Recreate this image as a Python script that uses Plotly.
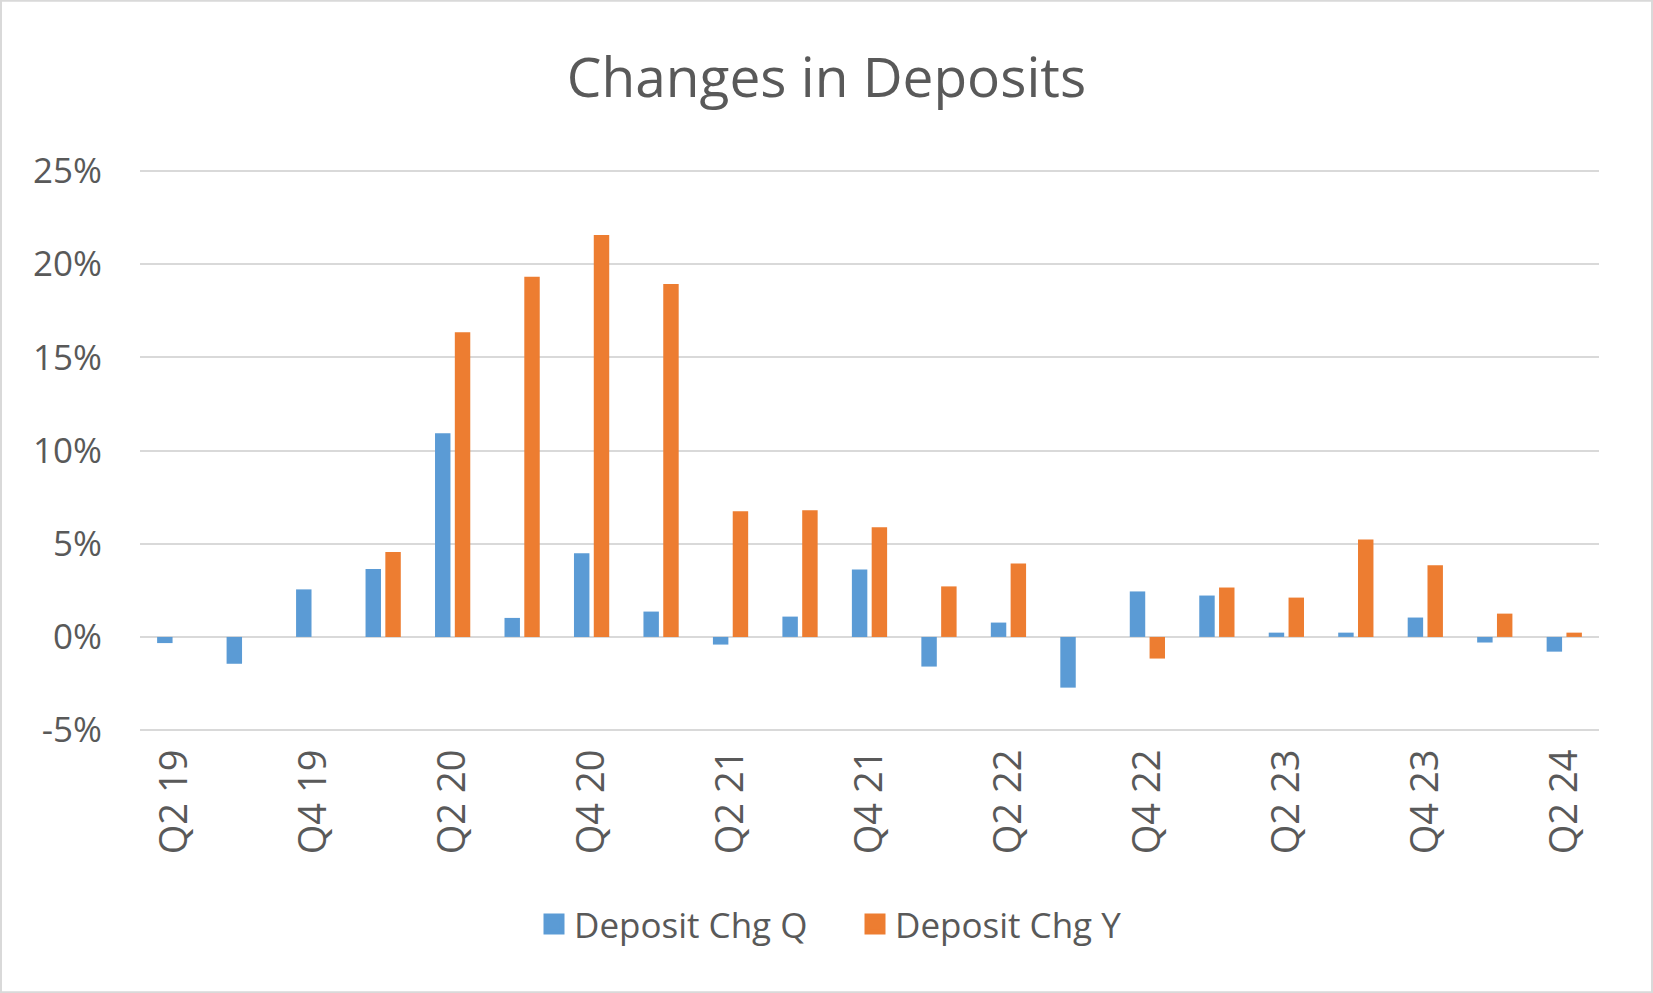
import plotly.graph_objects as go

categories = ["Q2 19", "Q3 19", "Q4 19", "Q1 20", "Q2 20", "Q3 20", "Q4 20",
              "Q1 21", "Q2 21", "Q3 21", "Q4 21", "Q1 22", "Q2 22", "Q3 22",
              "Q4 22", "Q1 23", "Q2 23", "Q3 23", "Q4 23", "Q1 24", "Q2 24"]
deposit_chg_q = [-0.33, -1.44, 2.55, 3.64, 10.93, 1.02, 4.49,
                 1.36, -0.41, 1.09, 3.62, -1.59, 0.77, -2.72,
                 2.44, 2.22, 0.23, 0.23, 1.04, -0.30, -0.79]
deposit_chg_y = [None, None, None, 4.55, 16.34, 19.32, 21.56,
                 18.93, 6.74, 6.79, 5.88, 2.71, 3.94, None,
                 -1.16, 2.65, 2.11, 5.23, 3.84, 1.25, 0.23]
y_ticks = [-5, 0, 5, 10, 15, 20, 25]
y_tick_labels = ["-5%", "0%", "5%", "10%", "15%", "20%", "25%"]
x_tick_labels = categories[::2]

BLUE = "#5B9BD5"
ORANGE = "#ED7D31"
TEXT = "#595959"
GRID = "#D9D9D9"
FONT = "Open Sans"

fig = go.Figure()
fig.add_trace(go.Bar(x=categories, y=deposit_chg_q, name="Deposit Chg Q",
                     marker=dict(color=BLUE, line=dict(width=0)),
                     showlegend=False, legendgroup="q"))
fig.add_trace(go.Bar(x=categories, y=deposit_chg_y, name="Deposit Chg Y",
                     marker=dict(color=ORANGE, line=dict(width=0)),
                     showlegend=False, legendgroup="y"))
# legend entries (larger square swatches)
fig.add_trace(go.Scatter(x=[None], y=[None], mode="markers", name="Deposit Chg Q",
                         marker=dict(symbol="square", size=16, color=BLUE,
                                     line=dict(color=BLUE, width=5)),
                         legendgroup="q"))
fig.add_trace(go.Scatter(x=[None], y=[None], mode="markers", name="Deposit Chg Y",
                         marker=dict(symbol="square", size=16, color=ORANGE,
                                     line=dict(color=ORANGE, width=5)),
                         legendgroup="y"))

W, H = 1653, 993
PAD = 0.1  # small range padding so the 25% and -5% gridlines are drawn
unit = 559 / 30.0
L, R = 140, 54
T = 171 - PAD * unit
B = 263 - PAD * unit
pw, ph = W - L - R, H - T - B

fig.update_layout(
    width=W, height=H,
    margin=dict(l=L, r=R, t=T, b=B, pad=0),
    paper_bgcolor="white", plot_bgcolor="white",
    barmode="group", bargap=0.43, bargroupgap=0.22,
    font=dict(family=FONT, color=TEXT, size=30),
    title=dict(text="Changes in Deposits", x=0.5, xanchor="center",
               y=1 - 78 / H, yanchor="middle",
               font=dict(family=FONT, size=55, color=TEXT)),
    showlegend=True,
    legend=dict(orientation="h", x=(855 - L) / pw, xanchor="center",
                y=-(924 - (H - B)) / ph, yanchor="middle",
                font=dict(family=FONT, size=35, color=TEXT),
                itemsizing="trace", traceorder="normal",
                entrywidth=276, entrywidthmode="pixels"),
    xaxis=dict(type="category", tickmode="array", tickvals=x_tick_labels,
               ticktext=x_tick_labels, tickangle=-90, showgrid=False,
               showline=False, ticks="", ticklen=0, ticklabelstandoff=9,
               tickfont=dict(family=FONT, size=38, color=TEXT)),
    yaxis=dict(range=[-5 - PAD, 25 + PAD], tickmode="array", tickvals=y_ticks,
               ticktext=y_tick_labels, showgrid=True, gridcolor=GRID,
               gridwidth=2, zeroline=True, zerolinecolor=GRID, zerolinewidth=2,
               showline=False, ticks="", ticklabelstandoff=37,
               tickfont=dict(family=FONT, size=35, color=TEXT)),
    shapes=[dict(type="rect", xref="paper", yref="paper",
                 x0=-(L - 1) / pw, x1=(W - L - 1) / pw,
                 y0=-(B - 1) / ph, y1=(H - B - 1) / ph,
                 line=dict(color=GRID, width=2), fillcolor="rgba(0,0,0,0)",
                 layer="below")],
)

fig.write_html("out.html")
